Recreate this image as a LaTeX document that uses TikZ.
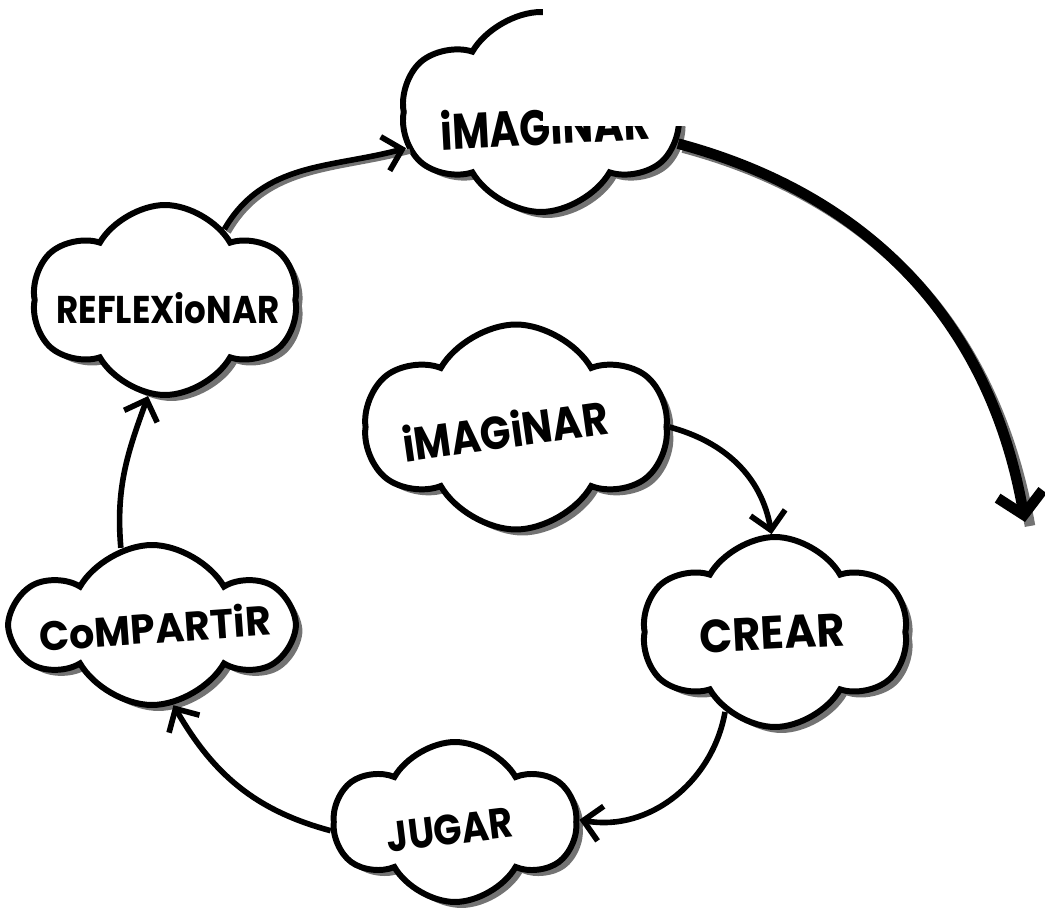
\documentclass[tikz,border=0pt]{standalone}
\usepackage{fontspec}
\setmainfont{Poppins}
\usepackage{graphicx}
\usetikzlibrary{shapes.symbols,shadows,arrows.meta}
\begin{document}
\begin{tikzpicture}[x=0.02cm,y=-0.02cm,
  cloudbox/.style={cloud, cloud puffs=6, cloud puff arc=120, draw=black, line width=3.4pt, fill=white, inner sep=0pt,
    drop shadow={shadow xshift=0.13cm, shadow yshift=-0.12cm, fill=black!55, opacity=1}},
  lbl/.style={inner sep=0pt, font=\bfseries},
  arr/.style={line width=3.2pt, -{Straight Barb[length=10pt,width=20pt,line width=3.2pt]}},
  bigarr/.style={line width=6pt, -{Straight Barb[length=12pt,width=26pt,line width=6pt]}},
  shadowline/.style={draw=black!55, line width=6pt}
]
\useasboundingbox (0,0) rectangle (1045,911);
% clouds
\node[cloudbox, minimum width=5.56cm, minimum height=4.0cm] (top) at (541,112) {};
\node[cloudbox, minimum width=5.28cm, minimum height=3.8cm] (refl) at (165,300) {};
\node[cloudbox, minimum width=6.0cm, minimum height=4.1cm] (cen) at (516,427) {};
\node[cloudbox, minimum width=5.28cm, minimum height=3.8cm] (crear) at (775,632) {};
\node[cloudbox, minimum width=4.8cm, minimum height=3.2cm] (jugar) at (455,822) {};
\node[cloudbox, minimum width=5.5cm, minimum height=3.2cm] (comp) at (152,625) {};
% labels
\node[lbl, rotate=3] (ttop) at (545,125) {\resizebox{4.2cm}{0.8cm}{iMAGiNAR}};
\node[lbl] (trefl) at (168,308) {\resizebox{4.46cm}{0.62cm}{REFLEXioNAR}};
\node[lbl, rotate=8] (tcen) at (505,430) {\resizebox{4.14cm}{0.74cm}{iMAGiNAR}};
\node[lbl, rotate=3] (tcrear) at (772,633) {\resizebox{2.9cm}{0.66cm}{CREAR}};
\node[lbl, rotate=7] (tjugar) at (450,830) {\resizebox{2.54cm}{0.6cm}{JUGAR}};
\node[lbl, rotate=4] (tcomp) at (155,627) {\resizebox{4.64cm}{0.66cm}{CoMPARTiR}};
% white patch covering part of the top cloud
\fill[white] (543,0) rectangle (703,126);
% connectors
\coordinate (bigend) at (1025,522);
\draw[shadowline, line width=3pt, transform canvas={xshift=0.08cm, yshift=-0.06cm}] (refl.50) to[out=60, in=195] (top.195);
\draw[arr] (refl.50) to[out=60, in=195] (top.195);
\draw[arr] (comp.112) to[out=95, in=250] (refl.260);
\draw[arr] (jugar.184) to[out=165, in=300] (comp.285);
\draw[arr] (crear.238) to[out=260, in=-10] (jugar.1);
\draw[arr] (cen.0) to[out=-15, in=100] (crear.92);
\draw[shadowline, transform canvas={xshift=0.1cm, yshift=-0.08cm}] (top.347) to[out=-15, in=100] (bigend);
\draw[bigarr] (top.347) to[out=-15, in=100] (bigend);
\end{tikzpicture}
\end{document}
